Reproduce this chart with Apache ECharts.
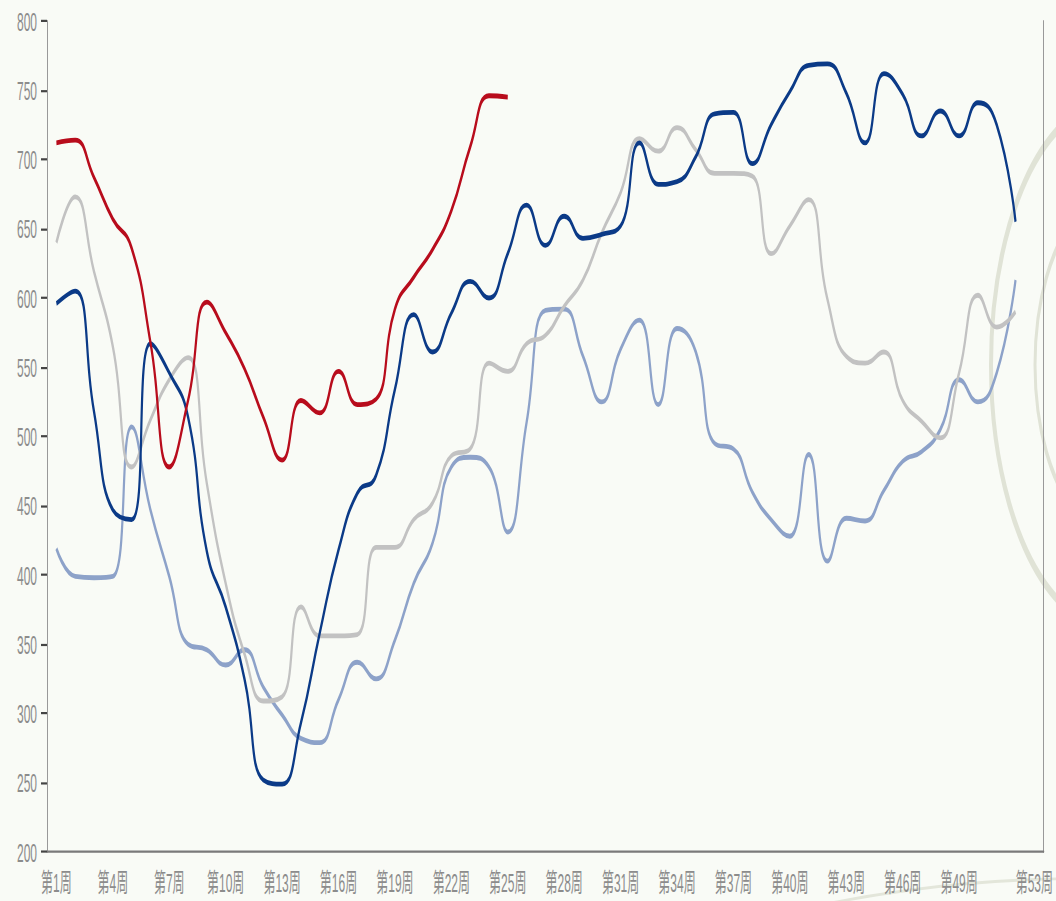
<!DOCTYPE html>
<html>
<head>
<meta charset="utf-8">
<script src="https://cdn.jsdelivr.net/npm/echarts@6/dist/echarts.min.js"></script>
<style>
html, body { margin: 0; padding: 0; background: #f9fbf6; overflow: hidden; }
#wrap { width: 1056px; height: 901px; overflow: hidden; }
#chart { width: 1056px; height: 410px; transform: scaleY(2.19756); transform-origin: 0 0; }
</style>
</head>
<body>
<div id="wrap"><div id="chart"></div></div>
<script>
// ---- data ----
const weeks = ['第1周','第2周','第3周','第4周','第5周','第6周','第7周','第8周','第9周','第10周',
  '第11周','第12周','第13周','第14周','第15周','第16周','第17周','第18周','第19周','第20周',
  '第21周','第22周','第23周','第24周','第25周','第26周','第27周','第28周','第29周','第30周',
  '第31周','第32周','第33周','第34周','第35周','第36周','第37周','第38周','第39周','第40周',
  '第41周','第42周','第43周','第44周','第45周','第46周','第47周','第48周','第49周','第50周',
  '第51周','第52周','第53周'];

const seriesRed = [712, 714, 687, 657, 636, 568, 478, 526, 597, 575, 549, 514, 483, 526, 517,
  547, 523, 527, 592, 615, 635, 663, 709, 746, 745];

const seriesDarkBlue = [596, 605, 518, 447, 440, 567, 546, 514, 417, 377, 325, 252, 249, 293, 358,
  418, 459, 472, 534, 588, 561, 589, 612, 600, 632, 667, 638, 659, 643, 646, 652, 712, 682, 684,
  702, 733, 734, 697, 725, 749, 768, 769, 748, 712, 762, 747, 717, 735, 717, 741, 725, 655];

const seriesGray = [640, 673, 619, 565, 478, 512, 541, 557, 466, 394, 343, 309, 312, 377, 356,
  356, 357, 420, 420, 440, 452, 486, 491, 553, 547, 567, 573, 594, 613, 647, 676, 715, 706, 723,
  707, 690, 690, 688, 632, 652, 671, 599, 558, 553, 561, 526, 511, 499, 546, 602, 579, 590];

const seriesLightBlue = [419, 399, 398, 399, 507, 447, 399, 350, 346, 335, 346, 319, 299, 282, 279,
  310, 337, 325, 353, 394, 423, 478, 485, 478, 431, 510, 591, 592, 558, 525, 563, 584, 523, 578,
  561, 495, 491, 460, 440, 428, 487, 410, 441, 439, 461, 482, 489, 505, 541, 525, 546, 613];

const yMin = 200, yMax = 800, yStep = 50;

// ---- chart ----
const S = 901 / 410;
const FONT = '"Liberation Sans", Arial, "Noto Sans CJK SC", sans-serif';
const chart = echarts.init(document.getElementById('chart'), null, { renderer: 'svg' });

function line(name, data, color, z) {
  return {
    name: name, type: 'line', data: data, smooth: 0.5,
    symbol: 'none', z: z,
    lineStyle: { color: color, width: 2.2 }
  };
}

chart.setOption({
  backgroundColor: '#f9fbf6',
  animation: false,
  graphic: [
    { type: 'circle', z: -5, silent: true, shape: { cx: 1110, cy: 166, r: 119 },
      style: { fill: 'none', stroke: '#e0e3d6', lineWidth: 4 } },
    { type: 'circle', z: -5, silent: true, shape: { cx: 1110, cy: 166, r: 75 },
      style: { fill: 'none', stroke: '#e0e3d6', lineWidth: 3 } },
    { type: 'circle', z: -5, silent: true, shape: { cx: 1080, cy: 3200, r: 2800 },
      style: { fill: 'none', stroke: '#e3e6da', lineWidth: 1.3 } }
  ],
  grid: { left: 47, right: 11, top: 21 / S, bottom: 49 / S, containLabel: false },
  xAxis: {
    type: 'category', data: weeks, boundaryGap: true,
    axisLine: { lineStyle: { color: '#7a7a7a', width: 1 } },
    axisTick: { interval: function (i) { return i % 3 === 0; }, length: 5, lineStyle: { color: '#444' } },
    axisLabel: {
      interval: function (i) { return (i % 3 === 0 && i !== 51) || i === 52; },
      margin: 8, fontSize: 12, color: '#8c8c8c', fontFamily: FONT
    },
    splitLine: { show: false }
  },
  yAxis: [{
    type: 'value', min: yMin, max: yMax, interval: yStep,
    axisLine: { show: true, lineStyle: { color: '#999', width: 1 } },
    axisTick: { show: true, length: 6, lineStyle: { color: '#444' } },
    axisLabel: { margin: 10, fontSize: 12, color: '#8c8c8c', fontFamily: FONT },
    splitLine: { show: false }
  }, {
    type: 'value', position: 'right', min: yMin, max: yMax, interval: yStep,
    axisLine: { show: true, lineStyle: { color: '#999', width: 1 } },
    axisTick: { show: false }, axisLabel: { show: false }, splitLine: { show: false }
  }],
  series: [
    line('2021年', seriesLightBlue, '#8da2c9', 2),
    line('2022年', seriesGray, '#c2c2c2', 3),
    line('2023年', seriesDarkBlue, '#0b3a87', 4),
    line('2024年', seriesRed, '#b80c1c', 5)
  ]
});
</script>
</body>
</html>
